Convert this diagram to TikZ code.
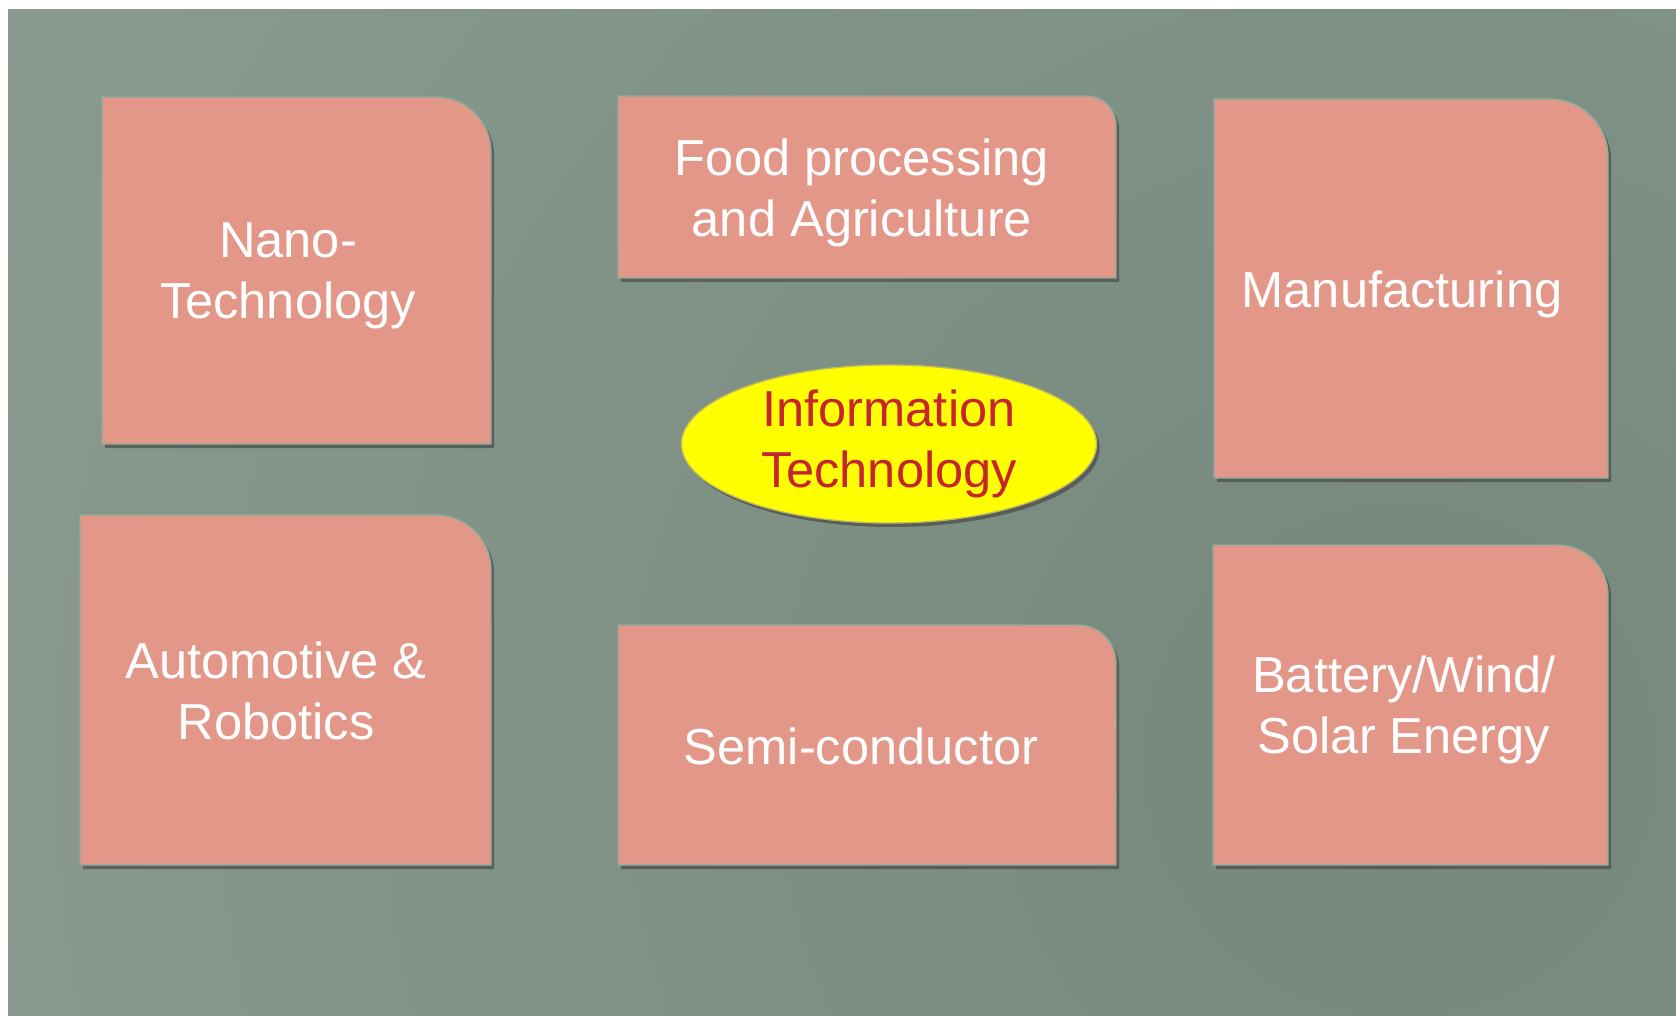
\documentclass[tikz,border=0pt]{standalone}
\usepackage{fontspec}
\setmainfont{Liberation Sans}
\usetikzlibrary{shapes.geometric,shadows}

\definecolor{bglight}{RGB}{147,162,152}
\definecolor{bgdark}{RGB}{117,135,123}
\definecolor{tilefill}{RGB}{227,151,137}
\definecolor{tileedge}{RGB}{140,172,156}
\definecolor{ityellow}{RGB}{255,255,0}
\definecolor{itedge}{RGB}{196,190,90}
\definecolor{itred}{RGB}{198,36,48}

\tikzset{
  tile/.style={fill=tilefill, draw=tileedge, line width=0.7pt,
    drop shadow={shadow xshift=1.6pt, shadow yshift=-2pt, opacity=0.6, fill=black!75}},
  tiletext/.style={text=white, align=center, inner sep=0pt,
    font=\fontsize{25.3}{30.75}\selectfont},
}

% box with one rounded corner (top right), px coordinates
\newcommand{\tilebox}[5]{%
  \path[tile] (#1,#2) -- ({#3-#5},#2) arc[start angle=90, end angle=0, radius=#5*0.5pt]
    -- (#3,#4) -- (#1,#4) -- cycle;}

\begin{document}
\begin{tikzpicture}[x=0.5pt, y=-0.5pt]
\useasboundingbox (0,0) rectangle (1676,1016);
\begin{scope}
\clip (8,10) rectangle (1676,1016);
\shade[inner color=bgdark, outer color=bglight] (1400,760) circle (2200);
\end{scope}

\tilebox{102}{97}{491}{444}{55}
\tilebox{618}{96}{1116}{278}{29}
\tilebox{1214}{99}{1608}{478}{58}
\tilebox{80}{515}{491}{865}{55}
\tilebox{618}{625}{1116}{865}{38}
\tilebox{1213}{545}{1608}{865}{50}

\node[ellipse, fill=ityellow, draw=itedge, line width=0.7pt, minimum width=207.5pt,
  minimum height=79pt, inner sep=0pt, text=itred, align=center,
  font=\fontsize{25.3}{30.75}\selectfont,
  drop shadow={shadow xshift=1.6pt, shadow yshift=-2pt, opacity=0.6, fill=black!75}]
  (it) at (889,444) {Information\\Technology};

\node[tiletext] (nano) at (288,276) {Nano-\\Technology};
\node[tiletext] (food) at (862,193) {Food processing\\and Agriculture};
\node[tiletext] (manu) at (1402,294) {Manufacturing};
\node[tiletext] (auto) at (276,691) {Automotive \&\\Robotics};
\node[tiletext] (semi) at (861,746) {Semi-conductor};
\node[tiletext] (batt) at (1404,710) {Battery/Wind/\\Solar Energy};
\end{tikzpicture}
\end{document}
